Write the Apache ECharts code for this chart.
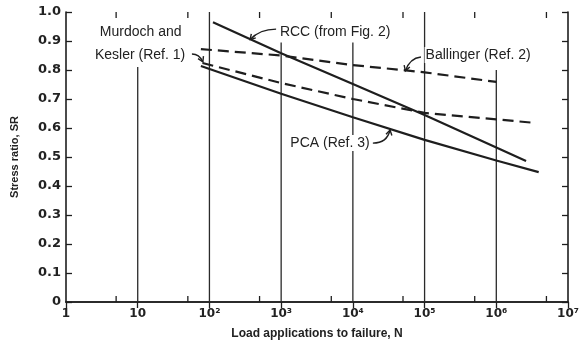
<!DOCTYPE html>
<html><head><meta charset="utf-8">
<script src="https://cdn.jsdelivr.net/npm/echarts@6/dist/echarts.min.js"></script>
<style>html,body{margin:0;padding:0;background:#fff}#c{width:582px;height:349px}</style>
</head><body><div id="c"></div>
<script>
// ---- data ----
const xTickLabels = ['1', '10', '10²', '10³', '10⁴', '10⁵', '10⁶', '10⁷'];
const yTickLabels = ['0', '0.1', '0.2', '0.3', '0.4', '0.5', '0.6', '0.7', '0.8', '0.9', '1.0'];

const rccN  = [112, 1000, 10000, 100000, 1000000, 2600000];
const rccSR = [0.965, 0.858, 0.752, 0.645, 0.533, 0.486];

const pcaN  = [76, 1000, 10000, 100000, 1000000, 3900000];
const pcaSR = [0.814, 0.718, 0.637, 0.559, 0.488, 0.448];

const murdochN  = [80, 1000, 10000, 100000, 1000000, 3600000];
const murdochSR = [0.824, 0.755, 0.700, 0.652, 0.630, 0.617];

const ballingerN  = [76, 1000, 10000, 100000, 1000000];
const ballingerSR = [0.872, 0.850, 0.817, 0.792, 0.759];

// vertical rules at decades: N value and how high they reach
const ruleN   = [10, 100, 1000, 10000, 100000, 1000000];
const ruleTop = [0.81, 1.0, 0.895, 0.895, 1.0, 0.80];

// minor tick values (5 x 10^n)
const minorN = [5, 50, 500, 5000, 50000, 500000, 5000000];

// annotations
const labelTexts = ['Murdoch and', 'Kesler (Ref. 1)', 'RCC (from Fig. 2)', 'Ballinger (Ref. 2)', 'PCA (Ref. 3)'];
const labelN  = [11, 10.8, 930, 100000, 1300];
const labelSR = [0.931, 0.852, 0.931, 0.852, 0.548];
const labelAlign = ['center', 'center', 'left', 'left', 'left'];

// leader curves: start, control, end (N, SR)
const leaders = [
  [[57, 0.855], [72, 0.855], [81, 0.828]],
  [[850, 0.941], [500, 0.941], [370, 0.905]],
  [[89000, 0.845], [62000, 0.841], [54000, 0.797]],
  [[19000, 0.548], [30000, 0.548], [33000, 0.593]]
];

const zip = (a, b) => a.map((v, i) => [v, b[i]]);
const INK = '#1e1e1e';
const FONT = '"Liberation Sans", Arial, sans-serif';

const chart = echarts.init(document.getElementById('c'), null, {renderer: 'canvas'});

const axisCommon = {
  type: 'log', logBase: 10, min: 1, max: 10000000,
  axisLine: {show: true, lineStyle: {color: INK, width: 1.6}},
  axisTick: {show: true, inside: true, length: 6, lineStyle: {color: INK, width: 1.3}},
  splitLine: {show: false}, minorTick: {show: false}
};

const option = {
  animation: false,
  backgroundColor: '#fff',
  grid: {left: 66, right: 7, top: 12, bottom: 47, containLabel: false},
  xAxis: [
    Object.assign({}, axisCommon, {
      position: 'bottom',
      name: 'Load applications to failure, N',
      nameLocation: 'middle', nameGap: 26,
      nameTextStyle: {fontFamily: FONT, fontWeight: 'bold', fontSize: 12, color: '#222'},
      axisTick: {show: false},
      axisLabel: {
        margin: 6, fontFamily: '"DejaVu Sans", sans-serif', fontWeight: 'bold', fontSize: 12, color: '#222',
        formatter: v => xTickLabels[Math.round(Math.log10(v))]
      }
    }),
    Object.assign({}, axisCommon, {position: 'top', axisLabel: {show: false}})
  ],
  yAxis: [
    {
      type: 'value', min: 0, max: 1, interval: 0.1, position: 'left',
      name: 'Stress ratio, SR', nameLocation: 'middle', nameGap: 46,
      nameTextStyle: {fontFamily: FONT, fontWeight: 'bold', fontSize: 11, color: '#222'},
      axisLine: {show: true, lineStyle: {color: INK, width: 1.6}},
      axisTick: {show: true, inside: true, length: 6, lineStyle: {color: INK, width: 1.3}},
      splitLine: {show: false},
      axisLabel: {
        margin: 5, fontFamily: '"DejaVu Sans", sans-serif', fontWeight: 'bold', fontSize: 13, color: '#222',
        formatter: v => yTickLabels[Math.round(v * 10)]
      }
    },
    {
      type: 'value', min: 0, max: 1, interval: 0.1, position: 'right',
      axisLine: {show: true, lineStyle: {color: INK, width: 1.6}},
      axisTick: {show: true, inside: true, length: 6, lineStyle: {color: INK, width: 1.3}},
      splitLine: {show: false}, axisLabel: {show: false}
    }
  ],
  series: [
    {
      type: 'custom', name: 'rules', xAxisIndex: 0, yAxisIndex: 0, clip: false, z: 1,
      data: zip(ruleN, ruleTop),
      renderItem: (params, api) => {
        const p0 = api.coord([api.value(0), 0]);
        const p1 = api.coord([api.value(0), api.value(1)]);
        return {type: 'line', shape: {x1: p0[0], y1: p0[1], x2: p1[0], y2: p1[1]},
                style: {stroke: '#2a2a2a', lineWidth: 1.3}};
      }
    },
    {
      type: 'custom', name: 'minorTicks', xAxisIndex: 0, yAxisIndex: 0, clip: false, z: 1,
      data: minorN.map(v => [v, 0]),
      renderItem: (params, api) => {
        const b = api.coord([api.value(0), 0]);
        const t = api.coord([api.value(0), 1]);
        return {type: 'group', children: [
          {type: 'line', shape: {x1: b[0], y1: b[1], x2: b[0], y2: b[1] - 6}, style: {stroke: INK, lineWidth: 1.3}},
          {type: 'line', shape: {x1: t[0], y1: t[1], x2: t[0], y2: t[1] + 6}, style: {stroke: INK, lineWidth: 1.3}}
        ]};
      }
    },
    {type: 'line', name: 'RCC', data: zip(rccN, rccSR), showSymbol: false, symbol: 'none',
     lineStyle: {color: INK, width: 2.2}, z: 3},
    {type: 'line', name: 'PCA', data: zip(pcaN, pcaSR), showSymbol: false, symbol: 'none',
     lineStyle: {color: INK, width: 2.2}, z: 3},
    {type: 'line', name: 'Murdoch and Kesler', data: zip(murdochN, murdochSR), showSymbol: false, symbol: 'none',
     lineStyle: {color: INK, width: 2.2, type: [11, 6]}, z: 3},
    {type: 'line', name: 'Ballinger', data: zip(ballingerN, ballingerSR), showSymbol: false, symbol: 'none',
     lineStyle: {color: INK, width: 2.2, type: [11, 6]}, z: 3}
  ]
};
chart.setOption(option);

// annotations positioned through the axes
const px = d => chart.convertToPixel({xAxisIndex: 0, yAxisIndex: 0}, d);
const graphics = [];
labelTexts.forEach((t, i) => {
  const p = px([labelN[i], labelSR[i]]);
  graphics.push({type: 'text', x: p[0], y: p[1], z: 10,
    style: {text: t, fontFamily: FONT, fontSize: 14, fill: '#222', align: labelAlign[i], verticalAlign: 'middle',
            backgroundColor: '#fff', padding: [1, 1]}});
});
leaders.forEach(l => {
  const a = px(l[0]), c = px(l[1]), b = px(l[2]);
  graphics.push({type: 'bezierCurve', z: 10,
    shape: {x1: a[0], y1: a[1], cpx1: c[0], cpy1: c[1], x2: b[0], y2: b[1]},
    style: {stroke: INK, lineWidth: 1.4, fill: null}});
  const dx = b[0] - c[0], dy = b[1] - c[1], L = Math.hypot(dx, dy) || 1;
  const ux = dx / L, uy = dy / L, s = 5;
  graphics.push({type: 'polyline', z: 10,
    shape: {points: [[b[0] - ux * s - uy * s * 0.6, b[1] - uy * s + ux * s * 0.6], [b[0], b[1]],
                     [b[0] - ux * s + uy * s * 0.6, b[1] - uy * s - ux * s * 0.6]]},
    style: {stroke: INK, lineWidth: 1.4, fill: null}});
});
chart.setOption({graphic: graphics});
</script>
</body></html>
